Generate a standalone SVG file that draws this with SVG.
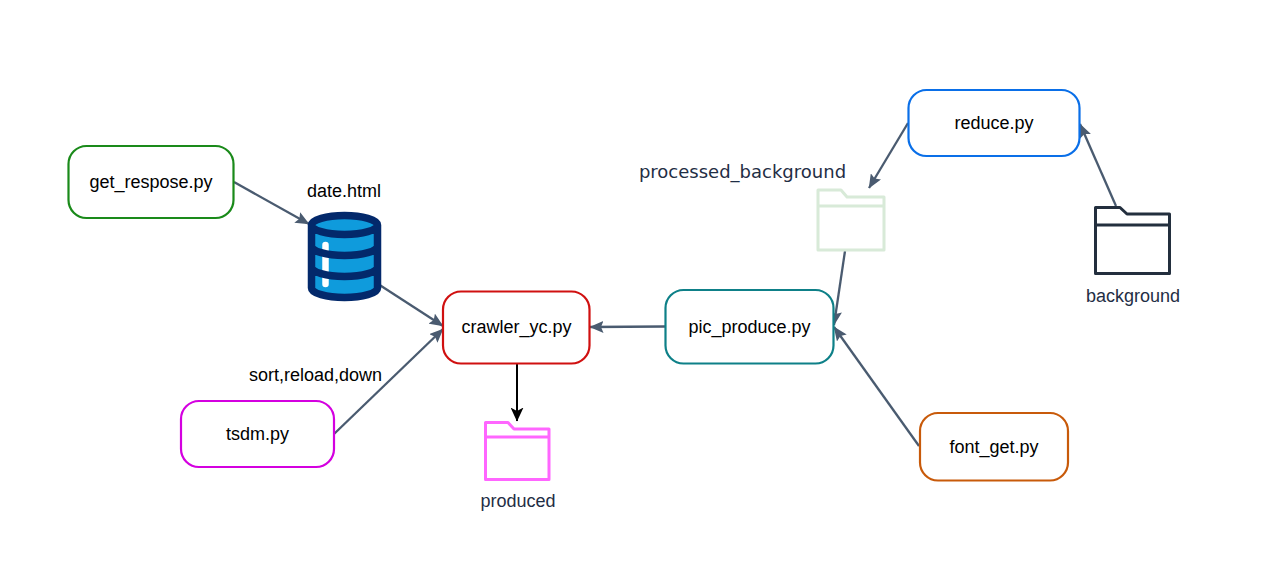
<svg xmlns="http://www.w3.org/2000/svg" width="1273" height="562" viewBox="0 0 1273 562">
<style>
text{font-family:"Liberation Sans",Arial,sans-serif;font-size:18px;text-anchor:middle;fill:#000}
.box{fill:#fff;stroke-width:2.2}
.c{fill:none;stroke:#4a5b70;stroke-width:2.3}
.k{fill:none;stroke:#000;stroke-width:2}
.f{fill:none;stroke-width:3;stroke-linejoin:round}
.t{fill:#1f2e45}
</style>
<defs>
<marker id="a" viewBox="0 0 14 12" refX="13.500" refY="6" markerWidth="14" markerHeight="12" markerUnits="userSpaceOnUse" orient="auto"><path d="M0 0L14 6L0 12L2.500 6Z" fill="#4a5b70"/></marker>
<marker id="b" viewBox="0 0 14 13" refX="13.500" refY="6.500" markerWidth="14" markerHeight="13" markerUnits="userSpaceOnUse" orient="auto"><path d="M0 0L14 6.500L0 13L3.500 6.500Z" fill="#000"/></marker>
</defs>
<g id="connectors">
<path class="c" marker-end="url(#a)" d="M234 182L309 224"/>
<path class="c" marker-end="url(#a)" d="M375 282L443 326"/>
<path class="c" marker-end="url(#a)" d="M334 434L443 329"/>
<path class="c" marker-end="url(#a)" d="M665 326.500L590 327"/>
<path class="k" marker-end="url(#b)" d="M517 364L517 421"/>
<path class="c" marker-end="url(#a)" d="M845 251L834 325"/>
<path class="c" marker-end="url(#a)" d="M919 446L834 327"/>
<path class="c" marker-end="url(#a)" d="M908 123L869 188"/>
<path class="c" marker-end="url(#a)" d="M1116 206L1080 124"/>
</g>
<g id="get_respose"><rect class="box" x="68.500" y="146" width="165" height="72" rx="18" stroke="#1a8a1a"/><text x="151" y="188">get_respose.py</text></g>
<g id="tsdm"><rect class="box" x="181" y="401" width="153" height="66" rx="18" stroke="#d400e0"/><text x="257.500" y="440">tsdm.py</text></g>
<g id="crawler_yc"><rect class="box" x="443" y="291.500" width="146.500" height="72" rx="18" stroke="#d01010"/><text x="516.500" y="333">crawler_yc.py</text></g>
<g id="pic_produce"><rect class="box" x="665.500" y="290" width="168" height="73.500" rx="18" stroke="#0e8088"/><text x="749.500" y="333">pic_produce.py</text></g>
<g id="reduce"><rect class="box" x="908.500" y="90" width="171" height="66" rx="18" stroke="#0a6fe8"/><text x="994" y="129">reduce.py</text></g>
<g id="font_get"><rect class="box" x="920" y="413" width="148" height="67.500" rx="18" stroke="#c85a0a"/><text x="994" y="453">font_get.py</text></g>
<g id="date_html">
<path d="M311.500 225A33 9.500 0 0 1 377.500 225V288A33 9.500 0 0 1 311.500 288Z" fill="#0f9bdc"/>
<path d="M325.500 245V284" stroke="#fff" stroke-width="6.500" stroke-linecap="round"/>
<path d="M311.500 225A33 9.500 0 0 1 377.500 225V288A33 9.500 0 0 1 311.500 288Z M311.500 225A33 9.500 0 0 0 377.500 225 M311.500 246A33 9.500 0 0 0 377.500 246 M311.500 267A33 9.500 0 0 0 377.500 267" fill="none" stroke="#03296b" stroke-width="7.500"/>
<text x="344" y="197">date.html</text>
</g>
<g id="processed_background">
<path class="f" stroke="#d8ead8" d="M818 190H841L847 197H884V250H818Z M818 206H884"/>
<text class="t" x="742.500" y="178" style="font-family:'DejaVu Sans',sans-serif">processed_background</text>
</g>
<g id="background">
<path class="f" stroke="#232f3e" d="M1095.500 207.500H1120L1127 214H1169.500V273.500H1095.500Z M1095.500 225H1169.500"/>
<text class="t" x="1133" y="302">background</text>
</g>
<g id="produced">
<path class="f" stroke="#ff66ff" d="M485.500 422.500H508L514 429H549V479.500H485.500Z M485.500 437H549"/>
<text class="t" x="518" y="507">produced</text>
</g>
<text id="sort_label" x="315.500" y="381">sort,reload,down</text>
</svg>
